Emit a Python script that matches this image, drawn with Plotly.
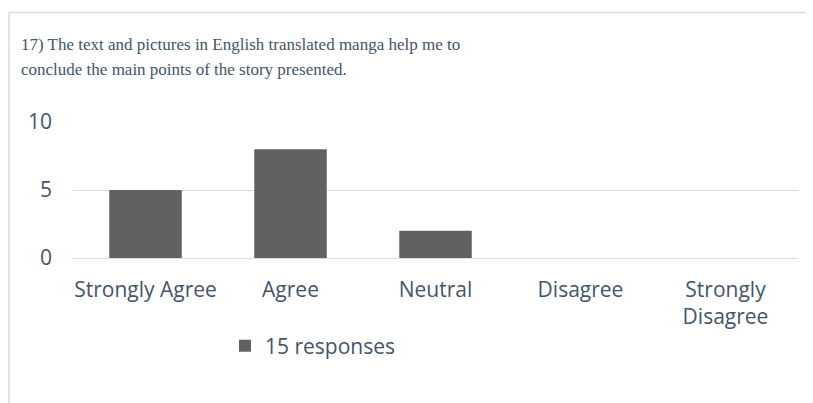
import plotly.graph_objects as go

categories = ["Strongly Agree", "Agree", "Neutral", "Disagree", "Strongly<br>Disagree"]
values = [5, 8, 2, 0, 0]
series_name = "15 responses"
title_lines = ["17) The text and pictures in English translated manga help me to",
               "conclude the main points of the story presented."]
y_ticks = [0, 5, 10]

OFF = 8  # page body margin
W, H = 813, 403
L = 73 - OFF
R = W - (798 - OFF)
T = 122 - OFF
B = H - (258 - OFF)
pw = W - L - R
ph = H - T - B

def px_x(px):
    return (px - OFF - L) / pw

def px_y(py):
    return (H - B - (py - OFF)) / ph

text_color = "#44546A"
tick_font = dict(family="Open Sans", size=21, color=text_color)

fig = go.Figure()
fig.add_trace(go.Bar(
    x=categories, y=values, name=series_name,
    marker=dict(color="#616161", line=dict(width=0)),
    width=0.5,
))

annotations = []
for i, line in enumerate(title_lines):
    annotations.append(dict(text=line, xref="paper", yref="paper", x=px_x(19), y=px_y(44 + 25 * i),
                            xanchor="left", yanchor="middle", align="left", showarrow=False,
                            font=dict(family="Liberation Serif", size=17, color=text_color)))

frame_color = "#D5DAE1"
fig.update_layout(
    width=W, height=H,
    margin=dict(l=L, r=R, t=T, b=B),
    paper_bgcolor="white", plot_bgcolor="white",
    showlegend=True,
    legend=dict(orientation="h", x=px_x(225), xanchor="left", y=px_y(346), yanchor="middle",
                font=tick_font, itemwidth=30),
    xaxis=dict(showgrid=False, showline=False, zeroline=False, ticks="",
               tickfont=tick_font, ticklabelstandoff=17),
    yaxis=dict(range=[0, 10], tickvals=y_ticks, showgrid=True, gridcolor="#D9DEE6", gridwidth=1,
               zeroline=True, zerolinecolor="#D9DEE6", zerolinewidth=1, showline=False,
               tickfont=tick_font, ticklabelstandoff=20),
    annotations=annotations,
    shapes=[
        dict(type="line", xref="paper", yref="paper", x0=px_x(9), x1=px_x(830), y0=px_y(12.5), y1=px_y(12.5),
             line=dict(color=frame_color, width=1.5)),
        dict(type="line", xref="paper", yref="paper", x0=px_x(9), x1=px_x(9), y0=px_y(12.5), y1=px_y(430),
             line=dict(color=frame_color, width=1.5)),
    ],
)

fig.write_html("out.html")
